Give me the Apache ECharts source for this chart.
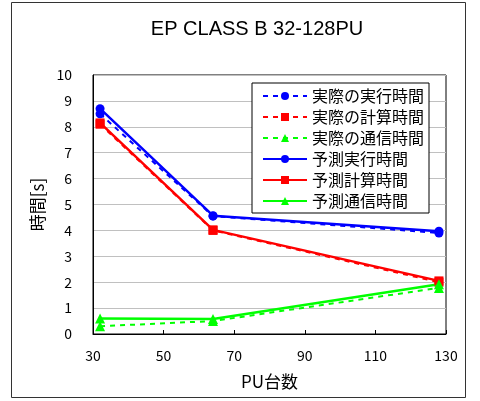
<!DOCTYPE html>
<html><head><meta charset="utf-8">
<script src="https://cdn.jsdelivr.net/npm/echarts@6/dist/echarts.min.js"></script>
<style>html,body{margin:0;padding:0;background:#fff}#c{width:480px;height:401px}</style>
</head><body><div id="c"></div>
<script>
const puCounts = [32, 64, 128];
const actualExec = [8.5, 4.55, 3.9];
const actualComp = [8.1, 4.0, 2.0];
const actualComm = [0.3, 0.5, 1.78];
const predExec = [8.7, 4.57, 3.97];
const predComp = [8.15, 4.02, 2.05];
const predComm = [0.6, 0.58, 1.92];
const seriesNames = ['実際の実行時間','実際の計算時間','実際の通信時間','予測実行時間','予測計算時間','予測通信時間'];
const xTicks = {min: 30, max: 130, interval: 20};
const yTicks = {min: 0, max: 10, interval: 1};

const font = '"Noto Sans CJK JP", sans-serif';
function mk(name, data, color, symbol, dashed) {
  return {
    name, type: 'line', data: data.map((v, i) => [puCounts[i], v]),
    symbol, symbolSize: symbol === 'triangle' ? 10 : 9,
    itemStyle: {color},
    lineStyle: {color, width: dashed ? 2 : 2.5, type: dashed ? [5, 5] : 'solid'},
    z: dashed ? 2 : 3, animation: false
  };
}
const chart = echarts.init(document.getElementById('c'), null, {renderer: 'canvas'});
chart.setOption({
  animation: false,
  title: {text: 'EP CLASS B 32-128PU', left: 252, top: 14, textAlign: 'center',
    textStyle: {fontFamily: '"Liberation Sans", sans-serif', fontWeight: 'normal', fontSize: 20, color: '#000'}},
  graphic: [{type: 'rect', shape: {x: 11.5, y: 2.5, width: 454, height: 395},
    style: {fill: null, stroke: '#333', lineWidth: 1}, z: -1}],
  grid: {left: 93, right: 34, top: 75, bottom: 67, show: true, borderColor: '#000', borderWidth: 1},
  legend: {
    data: seriesNames, orient: 'vertical', left: 252, top: 83, width: 176,
    itemWidth: 44, itemHeight: 10, itemGap: 5,
    backgroundColor: '#fff', borderColor: '#000', borderWidth: 1, padding: [5, 5, 4, 10],
    textStyle: {fontFamily: font, fontSize: 16, lineHeight: 16, color: '#000'}
  },
  xAxis: {
    type: 'value', min: xTicks.min, max: xTicks.max, interval: xTicks.interval,
    name: 'PU台数', nameLocation: 'middle', nameGap: 39,
    nameTextStyle: {fontFamily: font, fontSize: 17, color: '#000'},
    axisLine: {lineStyle: {color: '#000'}},
    axisTick: {inside: true, length: 4, lineStyle: {color: '#000'}},
    axisLabel: {fontFamily: font, fontSize: 14, color: '#000', margin: 15},
    splitLine: {show: false}
  },
  yAxis: {
    type: 'value', min: yTicks.min, max: yTicks.max, interval: yTicks.interval,
    name: '時間[s]', nameLocation: 'middle', nameGap: 47, nameRotate: 90,
    nameTextStyle: {fontFamily: font, fontSize: 17, color: '#000'},
    axisLine: {show: true, lineStyle: {color: '#000'}},
    axisTick: {show: false},
    axisLabel: {fontFamily: font, fontSize: 14, color: '#000', margin: 21},
    splitLine: {lineStyle: {color: '#c0c0c0', width: 1}}
  },
  series: [
    mk(seriesNames[0], actualExec, '#0000ff', 'circle', true),
    mk(seriesNames[1], actualComp, '#ff0000', 'rect', true),
    mk(seriesNames[2], actualComm, '#00ff00', 'triangle', true),
    mk(seriesNames[3], predExec, '#0000ff', 'circle', false),
    mk(seriesNames[4], predComp, '#ff0000', 'rect', false),
    mk(seriesNames[5], predComm, '#00ff00', 'triangle', false)
  ]
});
</script></body></html>
